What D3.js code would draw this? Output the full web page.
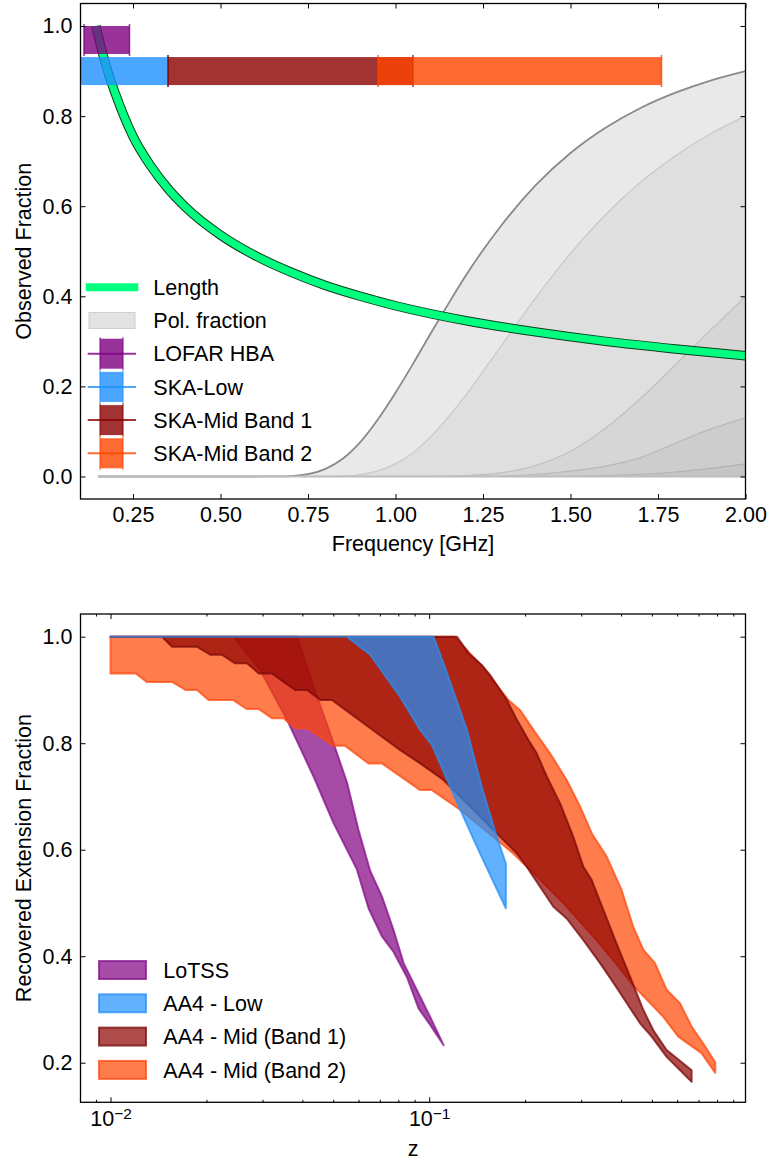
<!DOCTYPE html>
<html>
<head>
<meta charset="utf-8">
<script src="https://cdn.jsdelivr.net/npm/d3@7"></script>
<style>
  body { margin: 0; background: #fff; }
  text { font-family: "Liberation Sans", Arial, Helvetica, sans-serif; }
</style>
</head>
<body>
<svg id="chart" width="769" height="1162"></svg>
<script>
// ---------- data: top panel ----------
const lengthFreq = [0.144, 0.16, 0.18, 0.2, 0.25, 0.3, 0.35, 0.4, 0.5, 0.6, 0.7, 0.8, 0.9, 1.0, 1.2, 1.4, 1.6, 1.8, 2.0];
const lengthVal = [1.0, 0.949, 0.894, 0.849, 0.755, 0.69, 0.639, 0.598, 0.536, 0.49, 0.454, 0.424, 0.4, 0.379, 0.346, 0.321, 0.3, 0.283, 0.268];

const polFreq = [0.15, 0.3, 0.4, 0.5, 0.6, 0.65, 0.7, 0.75, 0.8, 0.85, 0.9, 0.95, 1.0, 1.05, 1.1, 1.15, 1.2, 1.3, 1.4, 1.5, 1.6, 1.7, 1.8, 1.9, 2.0];
const pol1 = [0, 0, 0, 0, 0, 0.0001, 0.001, 0.005, 0.017, 0.04, 0.077, 0.127, 0.186, 0.25, 0.317, 0.382, 0.445, 0.555, 0.646, 0.718, 0.774, 0.818, 0.852, 0.879, 0.90];
const pol2 = [0, 0, 0, 0, 0, 0, 0, 0, 0.0002, 0.001, 0.0044, 0.0126, 0.028, 0.053, 0.088, 0.131, 0.18, 0.288, 0.396, 0.495, 0.581, 0.653, 0.712, 0.761, 0.80];
const pol3 = [0, 0, 0, 0, 0, 0, 0, 0, 0, 0, 0, 0, 0, 0, 0.0002, 0.0008, 0.002, 0.008, 0.024, 0.056, 0.107, 0.173, 0.248, 0.325, 0.40];
const pol4 = [0, 0, 0, 0, 0, 0, 0, 0, 0, 0, 0, 0, 0, 0, 0, 0, 0, 0.001, 0.005, 0.012, 0.023, 0.042, 0.074, 0.105, 0.13];
const pol5 = [0, 0, 0, 0, 0, 0, 0, 0, 0, 0, 0, 0, 0, 0, 0, 0, 0, 0, 0, 0.0005, 0.002, 0.005, 0.01, 0.018, 0.028];

const telescopes = ['LOFAR HBA', 'SKA-Low', 'SKA-Mid Band 1', 'SKA-Mid Band 2'];
const bandLo = [0.11, 0.05, 0.35, 0.95];
const bandHi = [0.24, 0.35, 1.05, 1.76];
const bandY = [0.969, 0.90, 0.90, 0.90];

const topXTicks = [0.25, 0.5, 0.75, 1.0, 1.25, 1.5, 1.75, 2.0];
const topYTicks = [0, 0.2, 0.4, 0.6, 0.8, 1.0];

// ---------- data: bottom panel ----------
const surveys = ['LoTSS', 'AA4 - Low', 'AA4 - Mid (Band 1)', 'AA4 - Mid (Band 2)'];

const lotssUpperZ = [0.01, 0.0385, 0.0434, 0.0501, 0.0553, 0.060, 0.0653, 0.0711, 0.0773, 0.0831, 0.0914, 0.1007, 0.111];
const lotssUpperV = [1, 1, 0.906, 0.80, 0.725, 0.637, 0.56, 0.512, 0.449, 0.387, 0.337, 0.286, 0.233];
const lotssLowerZ = [0.01, 0.0243, 0.0295, 0.0358, 0.0434, 0.0501, 0.0593, 0.0645, 0.0711, 0.0773, 0.0851, 0.0926, 0.1007, 0.111];
const lotssLowerV = [1, 1, 0.937, 0.844, 0.737, 0.65, 0.563, 0.49, 0.437, 0.408, 0.361, 0.302, 0.271, 0.233];

const lowUpperZ = [0.01, 0.1031, 0.1109, 0.1313, 0.1462, 0.163, 0.174];
const lowUpperV = [1, 1, 0.95, 0.825, 0.718, 0.624, 0.574];
const lowLowerZ = [0.01, 0.0552, 0.0653, 0.0811, 0.0937, 0.102, 0.1164, 0.128, 0.1411, 0.1575, 0.174];
const lowLowerV = [1, 1, 0.966, 0.887, 0.825, 0.797, 0.718, 0.662, 0.606, 0.545, 0.49];

const mid1UpperZ = [0.01, 0.1221, 0.1328, 0.1462, 0.1553, 0.1752, 0.1884, 0.2048, 0.2175, 0.234, 0.2575, 0.2833, 0.3046, 0.3236, 0.352, 0.387, 0.4266, 0.47, 0.505, 0.556, 0.666];
const mid1UpperV = [1, 1, 0.969, 0.947, 0.928, 0.881, 0.844, 0.806, 0.781, 0.737, 0.687, 0.624, 0.568, 0.543, 0.487, 0.424, 0.362, 0.299, 0.261, 0.224, 0.186];
const mid1LowerZ = [0.01, 0.0145, 0.0156, 0.0187, 0.0206, 0.0224, 0.0246, 0.0268, 0.0292, 0.0321, 0.0349, 0.038, 0.0414, 0.0455, 0.0495, 0.0811, 0.0937, 0.1109, 0.1553, 0.1884, 0.2023, 0.2124, 0.2453, 0.270, 0.3046, 0.3436, 0.3796, 0.4588, 0.499, 0.556, 0.666];
const mid1LowerV = [1, 1, 0.981, 0.981, 0.966, 0.966, 0.95, 0.95, 0.931, 0.931, 0.915, 0.9, 0.9, 0.881, 0.881, 0.787, 0.762, 0.731, 0.643, 0.593, 0.568, 0.549, 0.493, 0.471, 0.43, 0.387, 0.349, 0.274, 0.249, 0.211, 0.164];

const mid2UpperZ = [0.01, 0.12, 0.1462, 0.1773, 0.1929, 0.2124, 0.2395, 0.270, 0.2975, 0.3236, 0.3606, 0.4018, 0.437, 0.47, 0.511, 0.556, 0.612, 0.666, 0.7244, 0.79];
const mid2UpperV = [1, 1, 0.945, 0.881, 0.862, 0.825, 0.781, 0.731, 0.681, 0.631, 0.587, 0.524, 0.455, 0.412, 0.387, 0.337, 0.312, 0.268, 0.236, 0.201];
const mid2LowerZ = [0.01, 0.012, 0.013, 0.0156, 0.0172, 0.0187, 0.0203, 0.0243, 0.0268, 0.0292, 0.0321, 0.0349, 0.038, 0.0414, 0.0455, 0.0501, 0.0545, 0.0645, 0.0711, 0.0937, 0.102, 0.125, 0.159, 0.1835, 0.2075, 0.2636, 0.3355, 0.387, 0.437, 0.5428, 0.605, 0.7157, 0.79];
const mid2LowerV = [0.931, 0.931, 0.915, 0.915, 0.9, 0.9, 0.881, 0.881, 0.864, 0.864, 0.847, 0.847, 0.828, 0.828, 0.812, 0.795, 0.795, 0.762, 0.762, 0.712, 0.712, 0.675, 0.624, 0.593, 0.562, 0.50, 0.43, 0.385, 0.345, 0.286, 0.249, 0.218, 0.181];

const botYTicks = [0.2, 0.4, 0.6, 0.8, 1.0];
const botXTicks = [0.01, 0.1];
const botXMinor = [0.009, 0.02, 0.03, 0.04, 0.05, 0.06, 0.07, 0.08, 0.09, 0.2, 0.3, 0.4, 0.5, 0.6, 0.7, 0.8, 0.9];

// ---------- setup ----------
const FS = 21.5;
const svg = d3.select('#chart');

const teleColors = ['#800080', '#1e90ff', '#8b0000', '#ff4500'];

function axes(g, box, x, y, xTicks, xFmt, yTicks, yFmt, xMinor) {
  const add = (gen, tr) => g.append('g').attr('transform', tr).call(gen)
    .call(s => s.select('.domain').remove());
  const xb = add(d3.axisBottom(x).tickValues(xTicks).tickFormat(xFmt).tickSize(-5).tickPadding(8), `translate(0,${box.bottom})`);
  add(d3.axisTop(x).tickValues(xTicks).tickFormat('').tickSize(-5), `translate(0,${box.top})`);
  add(d3.axisLeft(y).tickValues(yTicks).tickFormat(yFmt).tickSize(-5).tickPadding(8), `translate(${box.left},0)`);
  add(d3.axisRight(y).tickValues(yTicks).tickFormat('').tickSize(-5), `translate(${box.right},0)`);
  if (xMinor) {
    add(d3.axisBottom(x).tickValues(xMinor).tickFormat('').tickSize(-2.5), `translate(0,${box.bottom})`);
    add(d3.axisTop(x).tickValues(xMinor).tickFormat('').tickSize(-2.5), `translate(0,${box.top})`);
  }
  g.selectAll('.tick line').attr('stroke', '#000').attr('stroke-width', 1);
  g.selectAll('.tick text').attr('font-size', FS).attr('fill', '#000')
    .attr('font-family', '"Liberation Sans", Arial, sans-serif');
  g.append('rect')
    .attr('x', box.left).attr('y', box.top)
    .attr('width', box.right - box.left).attr('height', box.bottom - box.top)
    .attr('fill', 'none').attr('stroke', '#000').attr('stroke-width', 1.3);
  return xb;
}

// ================= TOP PANEL =================
const tb = { left: 80.5, right: 745.5, top: 3.5, bottom: 499 };
const xTop = d3.scaleLinear().domain([0.1, 2.0]).range([tb.left, tb.right]);
const yTop = d3.scaleLinear().domain([-0.05, 1.05]).range([tb.bottom, tb.top]);

svg.append('clipPath').attr('id', 'clipTop').append('rect')
  .attr('x', tb.left).attr('y', tb.top).attr('width', tb.right - tb.left).attr('height', tb.bottom - tb.top);
const gTop = svg.append('g').attr('clip-path', 'url(#clipTop)');

// polarisation fraction layers
const polLayers = [pol1, pol2, pol3, pol4, pol5];
const polFill = ['#e9e9e9', '#dfdfdf', '#d6d6d6', '#cdcdcd', '#c5c5c5'];
const polEdge = ['#8a8a8a', '#c8c8c8', '#c0c0c0', '#b9b9b9', '#b2b2b2'];
polLayers.forEach((vals, i) => {
  const pts = polFreq.map((f, j) => [f, vals[j]]);
  gTop.append('path')
    .attr('d', d3.area().x(d => xTop(d[0])).y0(yTop(0)).y1(d => yTop(d[1])).curve(d3.curveMonotoneX)(pts))
    .attr('fill', polFill[i]);
  gTop.append('path')
    .attr('d', d3.line().x(d => xTop(d[0])).y(d => yTop(d[1])).curve(d3.curveMonotoneX)(pts))
    .attr('fill', 'none').attr('stroke', polEdge[i]).attr('stroke-width', i === 0 ? 1.8 : 1.2);
});
gTop.append('line')
  .attr('x1', xTop(polFreq[0])).attr('x2', xTop(polFreq[polFreq.length - 1]))
  .attr('y1', yTop(0)).attr('y2', yTop(0))
  .attr('stroke', '#bdbdbd').attr('stroke-width', 2);

// length curve
const lenPts = lengthFreq.map((f, i) => [f, lengthVal[i]]);
const lenLine = d3.line().x(d => xTop(d[0])).y(d => yTop(d[1])).curve(d3.curveMonotoneX);
gTop.append('path').attr('d', lenLine(lenPts))
  .attr('fill', 'none').attr('stroke', '#0b3d1e').attr('stroke-width', 9.5);
gTop.append('path').attr('d', lenLine(lenPts))
  .attr('fill', 'none').attr('stroke', '#00ff7f').attr('stroke-width', 7.5);

// telescope bands
const barH = 28;
telescopes.forEach((t, i) => {
  const x0 = xTop(bandLo[i]), x1 = xTop(bandHi[i]), yc = yTop(bandY[i]);
  gTop.append('rect')
    .attr('x', x0).attr('y', yc - barH / 2).attr('width', x1 - x0).attr('height', barH)
    .attr('fill', teleColors[i]).attr('fill-opacity', 0.8);
  [x0, x1].forEach(xc => {
    gTop.append('line')
      .attr('x1', xc).attr('x2', xc).attr('y1', yc - barH / 2 - 2).attr('y2', yc + barH / 2 + 2)
      .attr('stroke', teleColors[i]).attr('stroke-opacity', 0.8).attr('stroke-width', 1.5);
  });
});

const topAxes = svg.append('g');
axes(topAxes, tb, xTop, yTop, topXTicks, d3.format('.2f'), topYTicks, d3.format('.1f'), null);

svg.append('text').attr('x', (tb.left + tb.right) / 2).attr('y', 551)
  .attr('text-anchor', 'middle').attr('font-size', FS).text('Frequency [GHz]');
svg.append('text').attr('transform', `translate(31,${(tb.top + tb.bottom) / 2}) rotate(-90)`)
  .attr('text-anchor', 'middle').attr('font-size', FS).text('Observed Fraction');

// top legend
const lgTop = svg.append('g');
const rowY = i => 287.3 + 33.2 * i;
lgTop.append('line').attr('x1', 85.7).attr('x2', 138.3).attr('y1', rowY(0)).attr('y2', rowY(0))
  .attr('stroke', '#00ff7f').attr('stroke-width', 8);
lgTop.append('rect').attr('x', 89).attr('y', rowY(1) - 8).attr('width', 46).attr('height', 16)
  .attr('fill', '#e3e3e3').attr('stroke', '#d0d0d0').attr('stroke-width', 1);
telescopes.forEach((t, i) => {
  const yc = rowY(i + 2);
  lgTop.append('rect').attr('x', 100).attr('y', yc - 15).attr('width', 23).attr('height', 30)
    .attr('fill', teleColors[i]).attr('fill-opacity', 0.8);
  lgTop.append('line').attr('x1', 87.7).attr('x2', 136).attr('y1', yc).attr('y2', yc)
    .attr('stroke', teleColors[i]).attr('stroke-opacity', 0.8).attr('stroke-width', 2);
  [100, 123].forEach(xc => lgTop.append('line')
    .attr('x1', xc).attr('x2', xc).attr('y1', yc - 16.5).attr('y2', yc + 16.5)
    .attr('stroke', teleColors[i]).attr('stroke-opacity', 0.8).attr('stroke-width', 1.2));
});
['Length', 'Pol. fraction'].concat(telescopes).forEach((t, i) => {
  lgTop.append('text').attr('x', 153.3).attr('y', rowY(i) + 7.7).attr('font-size', FS).text(t);
});

// ================= BOTTOM PANEL =================
const bb = { left: 80.5, right: 745.5, top: 614, bottom: 1102.3 };
const xBot = d3.scaleLog().domain([0.00805, 0.983]).range([bb.left, bb.right]);
const yBot = d3.scaleLinear().domain([0.1257, 1.0426]).range([bb.bottom, bb.top]);

svg.append('clipPath').attr('id', 'clipBot').append('rect')
  .attr('x', bb.left).attr('y', bb.top).attr('width', bb.right - bb.left).attr('height', bb.bottom - bb.top);
const gBot = svg.append('g').attr('clip-path', 'url(#clipBot)');

const bands = [
  { uz: lotssUpperZ, uv: lotssUpperV, lz: lotssLowerZ, lv: lotssLowerV, c: '#800080', e: '#86108a' },
  { uz: lowUpperZ, uv: lowUpperV, lz: lowLowerZ, lv: lowLowerV, c: '#1e90ff', e: '#2a8ff5' },
  { uz: mid1UpperZ, uv: mid1UpperV, lz: mid1LowerZ, lv: mid1LowerV, c: '#8b0000', e: '#7a0a0a' },
  { uz: mid2UpperZ, uv: mid2UpperV, lz: mid2LowerZ, lv: mid2LowerV, c: '#ff4500', e: '#ff4a10' }
];
const bandLine = d3.line().x(d => xBot(d[0])).y(d => yBot(d[1]));
// draw order as in the figure: LoTSS, Band 2, Band 1, Low on top
[0, 3, 2, 1].forEach(k => {
  const b = bands[k];
  const up = b.uz.map((z, i) => [z, b.uv[i]]);
  const lo = b.lz.map((z, i) => [z, b.lv[i]]).reverse();
  gBot.append('path').attr('d', bandLine(up.concat(lo)) + 'Z')
    .attr('fill', b.c).attr('fill-opacity', 0.7)
    .attr('stroke', b.e).attr('stroke-opacity', 0.75).attr('stroke-width', 2)
    .attr('stroke-linejoin', 'round');
});

const botAxes = svg.append('g');
const xb = axes(botAxes, bb, xBot, yBot, botXTicks, '', botYTicks, d3.format('.1f'), botXMinor);
xb.selectAll('.tick text').each(function (d) {
  const t = d3.select(this);
  t.text('');
  t.append('tspan').text('10');
  t.append('tspan').attr('dy', '-0.42em').attr('font-size', FS * 0.72)
    .text('\u2212' + Math.abs(Math.round(Math.log10(d))));
});

svg.append('text').attr('x', (bb.left + bb.right) / 2).attr('y', 1156)
  .attr('text-anchor', 'middle').attr('font-size', FS).text('z');
svg.append('text').attr('transform', `translate(30.5,${(bb.top + bb.bottom) / 2}) rotate(-90)`)
  .attr('text-anchor', 'middle').attr('font-size', FS).text('Recovered Extension Fraction');

// bottom legend
const lgBot = svg.append('g');
const botRow = [970, 1003.3, 1036.6, 1069.9];
surveys.forEach((s, i) => {
  lgBot.append('rect').attr('x', 99).attr('y', botRow[i] - 9).attr('width', 47).attr('height', 18)
    .attr('fill', bands[i].c).attr('fill-opacity', 0.7)
    .attr('stroke', bands[i].e).attr('stroke-opacity', 0.75).attr('stroke-width', 2);
  lgBot.append('text').attr('x', 163.3).attr('y', botRow[i] + 7.7).attr('font-size', FS).text(s);
});
</script>
</body>
</html>
